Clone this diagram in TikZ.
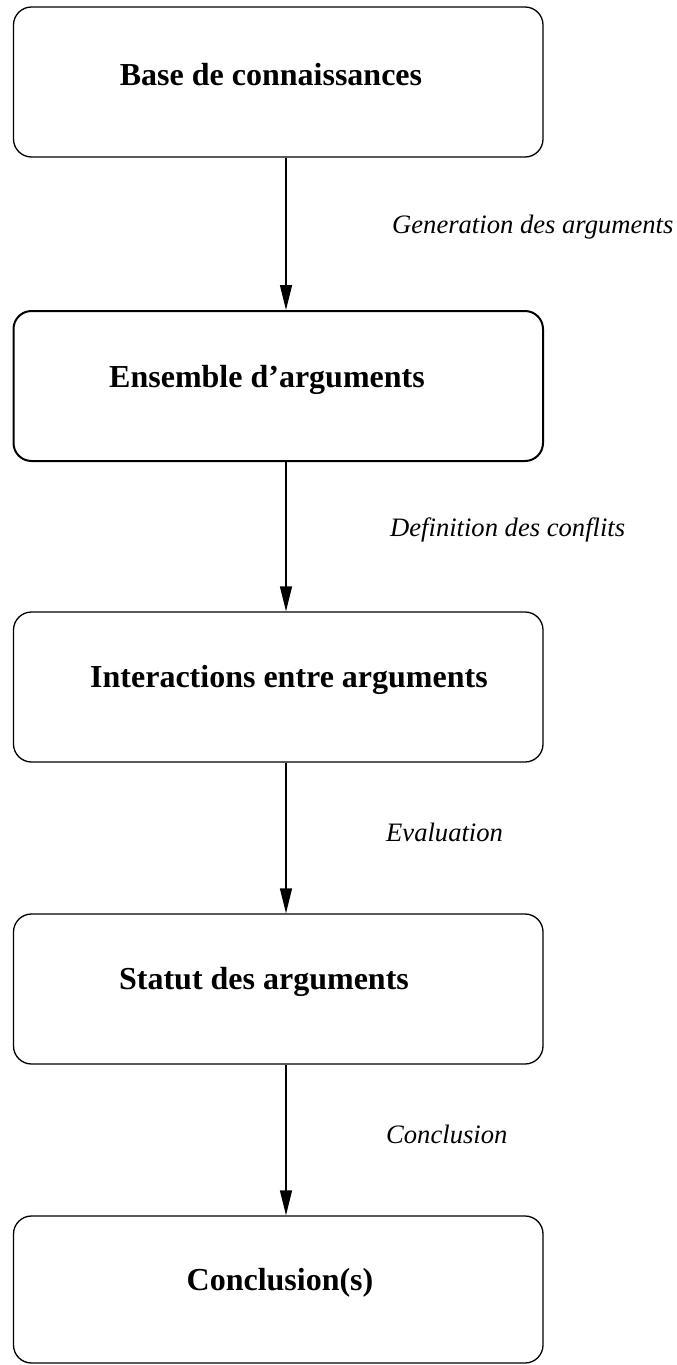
\documentclass[tikz,border=0pt]{standalone}
\usepackage{fontspec}
\setmainfont{Liberation Serif}
\usetikzlibrary{arrows.meta}
\begin{document}
\begin{tikzpicture}[x=1pt,y=-1pt,
  box/.style={draw, rounded corners=18pt, minimum width=529.5pt, minimum height=150pt, inner sep=0pt, line width=1.3pt},
  boxtext/.style={font=\fontsize{32}{36}\selectfont\bfseries, inner sep=0pt},
  lab/.style={font=\fontsize{26.6}{30}\selectfont\itshape, anchor=west, inner sep=0pt},
  flow/.style={line width=1.3pt, -{Triangle[width=12pt,length=25pt]}}]
\useasboundingbox (0,0) rectangle (677,1365);
\node[box] (b1) at (278.25,82) {};
\node[box, line width=2pt] (b2) at (278.25,386) {};
\node[box] (b3) at (278.25,687) {};
\node[box] (b4) at (278.25,989) {};
\node[box, minimum height=147pt] (b5) at (278.25,1289.5) {};
\node[boxtext] (t1) at (271,75) {Base de connaissances};
\node[boxtext] (t2) at (267,380) {Ensemble d’arguments};
\node[boxtext] (t3) at (289,680) {Interactions entre arguments};
\node[boxtext] (t4) at (264,982) {Statut des arguments};
\node[boxtext] (t5) at (280,1283) {Conclusion(s)};
\coordinate (ax) at (286,0);
\draw[flow] (b1.south -| ax) -- (b2.north -| ax);
\draw[flow] (b2.south -| ax) -- (b3.north -| ax);
\draw[flow] (b3.south -| ax) -- (b4.north -| ax);
\draw[flow] (b4.south -| ax) -- (b5.north -| ax);
\node[lab] (l1) at (392,227) {Generation des arguments};
\node[lab] (l2) at (390,530) {Definition des conflits};
\node[lab] (l3) at (386,832) {Evaluation};
\node[lab] (l4) at (386,1134) {Conclusion};
\end{tikzpicture}
\end{document}
